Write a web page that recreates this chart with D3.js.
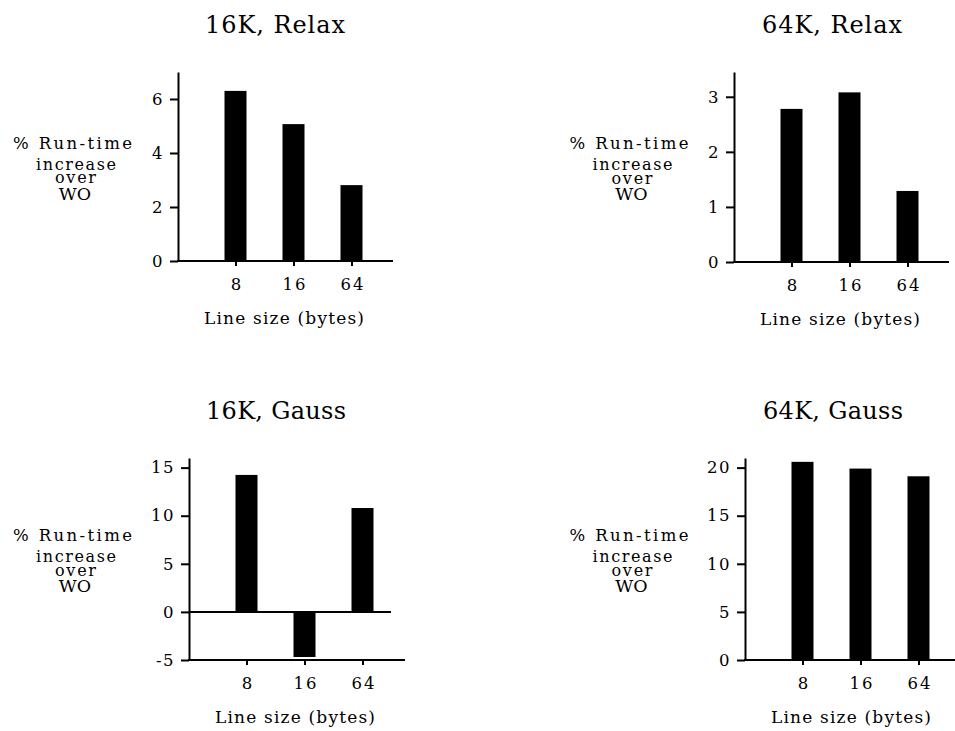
<!DOCTYPE html>
<html><head><meta charset="utf-8">
<script src="https://cdn.jsdelivr.net/npm/d3@7"></script>
<style>
body{margin:0;background:#fff;}
svg{display:block;}
text{font-family:"DejaVu Serif","Liberation Serif","Noto Serif",serif;fill:#000;}
</style></head><body>
<svg id="chart" width="955" height="731"></svg>
<script>
// ---- data ----
const categories = ["8", "16", "64"];
const titles = ["16K, Relax", "64K, Relax", "16K, Gauss", "64K, Gauss"];
const relax16 = [6.3, 5.07, 2.81];
const relax64 = [2.78, 3.08, 1.29];
const gauss16 = [14.24, -4.69, 10.8];
const gauss64 = [20.6, 19.9, 19.1];
const ticksRelax16 = [0, 2, 4, 6];
const ticksRelax64 = [0, 1, 2, 3];
const ticksGauss16 = [-5, 0, 5, 10, 15];
const ticksGauss64 = [0, 5, 10, 15, 20];
const extentRelax16 = [0, 7];
const extentRelax64 = [0, 3.45];
const extentGauss16 = [-5, 16];
const extentGauss64 = [0, 21];
const xLabel = "Line size (bytes)";
const yLabelLines = ["% Run-time", "increase", "over", "WO"];

// ---- layout (positions / styles) ----
const layout = [
  {left: 178, top: 72,  bottom: 261, right: 393, titleX: 275, ylabX: 72.5},
  {left: 734, top: 72,  bottom: 262, right: 949, titleX: 832, ylabX: 629},
  {left: 189, top: 458, bottom: 660, right: 405, titleX: 276, ylabX: 72.5, zeroRight: 391},
  {left: 745, top: 458, bottom: 660, right: 955, titleX: 833, ylabX: 629}
];
const ylabStyle = [
  {dx: 0,   dy: 0,    len: 119, size: 16.5},
  {dx: 3.5, dy: 21,   len: 80,  size: 16},
  {dx: 3,   dy: 34.5, len: 41,  size: 16},
  {dx: 2.5, dy: 51,   len: null, size: 17.5}
];
const FONT = '"DejaVu Serif","Liberation Serif",serif';

const panels = [
  {title: titles[0], values: relax16, ticks: ticksRelax16, extent: extentRelax16},
  {title: titles[1], values: relax64, ticks: ticksRelax64, extent: extentRelax64},
  {title: titles[2], values: gauss16, ticks: ticksGauss16, extent: extentGauss16},
  {title: titles[3], values: gauss64, ticks: ticksGauss64, extent: extentGauss64}
];

const svg = d3.select("#chart");
const barW = 22;

panels.forEach((p, i) => {
  const L = layout[i];
  const g = svg.append("g");
  const y = d3.scaleLinear().domain(p.extent).range([L.bottom, L.top]);
  const x = d3.scalePoint().domain(categories).range([L.left + 57.5, L.left + 173.5]);

  // title
  g.append("text")
    .attr("x", L.titleX).attr("y", L.top - 39)
    .attr("text-anchor", "middle")
    .attr("font-size", 24).style("font-weight", "normal")
    .attr("textLength", 140).attr("lengthAdjust", "spacing")
    .text(p.title);

  // bars
  g.selectAll("rect.bar").data(p.values).join("rect")
    .attr("class", "bar")
    .attr("x", (d, j) => x(categories[j]) - barW / 2)
    .attr("width", barW)
    .attr("y", d => y(Math.max(0, d)))
    .attr("height", d => Math.abs(y(d) - y(0)))
    .attr("fill", "#000");

  // y axis
  const ya = g.append("g").attr("transform", `translate(${L.left},0)`)
    .call(d3.axisLeft(y).tickValues(p.ticks).tickSize(8).tickSizeOuter(0).tickPadding(6)
      .tickFormat(d => d < 0 ? "-" + Math.abs(d) : String(d)));
  ya.select(".domain").attr("stroke", "#000").attr("stroke-width", 2);
  ya.selectAll(".tick line").attr("stroke", "#000").attr("stroke-width", 2);
  ya.selectAll(".tick text")
    .attr("font-family", FONT)
    .attr("font-size", 16.5).style("letter-spacing", "1.5px");

  // x axis
  const xa = g.append("g").attr("transform", `translate(0,${L.bottom})`)
    .call(d3.axisBottom(x).tickSize(5).tickSizeOuter(0).tickPadding(12));
  xa.select(".domain").remove();
  xa.selectAll(".tick line").attr("stroke", "#000").attr("stroke-width", 2);
  xa.selectAll(".tick text")
    .attr("font-family", FONT)
    .attr("font-size", 16.5).style("letter-spacing", "2px").attr("dx", "1");
  g.append("line")
    .attr("x1", L.left - 1).attr("x2", L.right)
    .attr("y1", y(p.extent[0])).attr("y2", y(p.extent[0]))
    .attr("stroke", "#000").attr("stroke-width", 2);
  if (p.extent[0] < 0) {
    g.append("line")
      .attr("x1", L.left).attr("x2", L.zeroRight)
      .attr("y1", y(0)).attr("y2", y(0))
      .attr("stroke", "#000").attr("stroke-width", 2);
  }

  // x label
  g.append("text")
    .attr("x", L.left + 106).attr("y", L.bottom + 63)
    .attr("text-anchor", "middle").attr("font-size", 17)
    .attr("textLength", 160).attr("lengthAdjust", "spacing")
    .text(xLabel);

  // y label
  const mid = (L.top + L.bottom) / 2;
  yLabelLines.forEach((t, k) => {
    const s = ylabStyle[k];
    const tx = g.append("text")
      .attr("x", L.ylabX + s.dx)
      .attr("y", mid - 18 + s.dy)
      .attr("text-anchor", "middle").attr("font-size", s.size)
      .text(t);
    if (s.len) tx.attr("textLength", s.len).attr("lengthAdjust", "spacing");
  });
});
</script>
</body></html>
